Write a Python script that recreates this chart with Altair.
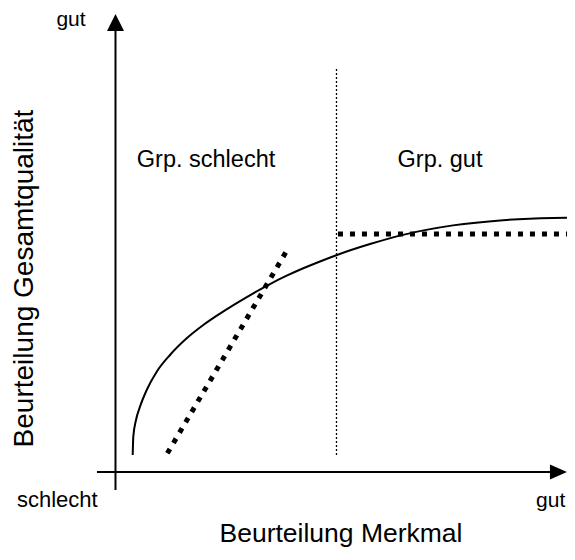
import altair as alt
import pandas as pd

# ---- data (conceptual units: origin at axis crossing) ----
curve_x = [3.75, 3.88, 4.47, 5.34, 6.80, 8.98, 11.87, 15.51, 19.13, 22.77, 26.41, 30.02, 33.66, 37.30,
           40.91, 44.55, 48.26, 55.45, 62.64, 73.53, 84.42, 95.32, 100.11]
curve_y = [3.73, 7.74, 11.40, 14.32, 17.98, 21.99, 25.66, 29.32, 32.24, 34.74, 37.04, 39.19, 41.21, 43.04,
           44.67, 46.17, 47.59, 49.98, 52.00, 54.08, 55.23, 55.72, 55.77]

steep_x = [11.30, 37.15]
steep_y = [4.10, 48.25]

flat_x = [48.47, 100.11]
flat_y = [52.19, 52.19]

split_x = [48.15, 48.15]
split_y = [3.73, 88.6]

xaxis_x = [-4.03, 94.66]
xaxis_y = [0, 0]
yaxis_x = [0, 0]
yaxis_y = [-3.95, 96.71]

arrow_x = [96.51, 0]
arrow_y = [0, 98.57]

group_labels = ["Grp. schlecht", "Grp. gut"]
group_x = [19.72, 70.70]
group_y = [66.89, 66.89]

end_labels = ["gut", "schlecht", "gut"]
end_x = [-9.70, -21.46, 98.0]
end_y = [97.81, -7.68, -7.68]
end_align = ["center", "left", "right"]
end_size = [21, 22, 21]

x_title = "Beurteilung Merkmal"
y_title = "Beurteilung Gesamtqualität"

FONT = "Liberation Sans"

xs = alt.Scale(domain=[-23.42, 98.37], nice=False, zero=False)
ys = alt.Scale(domain=[-16.67, 101.75], nice=False, zero=False)


def enc(chart):
    return chart.encode(
        x=alt.X("x:Q", scale=xs, axis=None),
        y=alt.Y("y:Q", scale=ys, axis=None),
    )


def line_layer(xv, yv, **kw):
    df = pd.DataFrame({"x": xv, "y": yv, "o": list(range(len(xv)))})
    return alt.Chart(df).mark_line(color="black", **kw).encode(
        x=alt.X("x:Q", scale=xs, axis=None),
        y=alt.Y("y:Q", scale=ys, axis=None),
        order="o:Q",
    )


axis_x_layer = line_layer(xaxis_x, xaxis_y, strokeWidth=2)
axis_y_layer = line_layer(yaxis_x, yaxis_y, strokeWidth=2)
curve_layer = line_layer(curve_x, curve_y, strokeWidth=2, interpolate="monotone")
steep_layer = line_layer(steep_x, steep_y, strokeWidth=5, strokeDash=[5, 7], strokeCap="butt")
flat_layer = line_layer(flat_x, flat_y, strokeWidth=5, strokeDash=[5, 7], strokeCap="butt")
split_layer = line_layer(split_x, split_y, strokeWidth=1.3, strokeDash=[2, 2])

arrow_df_x = pd.DataFrame({"x": [arrow_x[0]], "y": [arrow_y[0]]})
arrow_df_y = pd.DataFrame({"x": [arrow_x[1]], "y": [arrow_y[1]]})
arrow_right = enc(alt.Chart(arrow_df_x).mark_point(
    shape="M1,0L-1,-0.88L-1,0.88Z", filled=True, size=289, color="black", opacity=1, strokeWidth=0))
arrow_up = enc(alt.Chart(arrow_df_y).mark_point(
    shape="M0,-1L1,1L-1,1Z", filled=True, size=289, color="black", opacity=1, strokeWidth=0))

group_df = pd.DataFrame({"x": group_x, "y": group_y, "t": group_labels})
group_layer = enc(alt.Chart(group_df).mark_text(
    font=FONT, fontSize=23.5, align="center", baseline="alphabetic", color="black")).encode(text="t:N")

end_layers = []
for lab, xv, yv, al, fs in zip(end_labels, end_x, end_y, end_align, end_size):
    d = pd.DataFrame({"x": [xv], "y": [yv], "t": [lab]})
    end_layers.append(enc(alt.Chart(d).mark_text(
        font=FONT, fontSize=fs, align=al, baseline="alphabetic", color="black")).encode(text="t:N"))

xt_df = pd.DataFrame({"x": [49.13], "y": [-15.35], "t": [x_title]})
xt_layer = enc(alt.Chart(xt_df).mark_text(
    font=FONT, fontSize=26.5, align="center", baseline="alphabetic", color="black")).encode(text="t:N")

yt_df = pd.DataFrame({"x": [-17.97], "y": [42.43], "t": [y_title]})
yt_layer = enc(alt.Chart(yt_df).mark_text(
    font=FONT, fontSize=28, align="center", baseline="alphabetic", angle=270, color="black")).encode(text="t:N")

chart = alt.layer(
    split_layer, curve_layer, steep_layer, flat_layer,
    axis_x_layer, axis_y_layer, arrow_right, arrow_up,
    group_layer, *end_layers, xt_layer, yt_layer,
).properties(
    width=559, height=540, padding=0,
    autosize=alt.AutoSizeParams(type="none"),
).configure(background="white").configure_view(stroke=None, strokeWidth=0)

chart.save("out.html", embed_options={"renderer": "svg", "actions": False})
